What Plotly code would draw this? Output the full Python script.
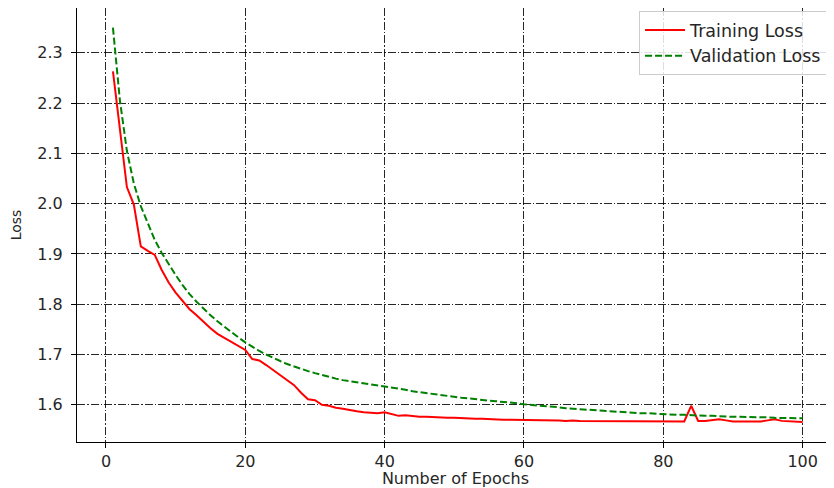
import plotly.graph_objects as go

epochs = list(range(1, 101))

training_loss = [
    2.263, 2.150, 2.033, 1.998, 1.915, 1.906, 1.898, 1.868, 1.843, 1.823,
    1.806, 1.790, 1.778, 1.764, 1.752, 1.741, 1.733, 1.724, 1.717, 1.709,
    1.691, 1.688, 1.679, 1.669, 1.659, 1.649, 1.639, 1.624, 1.611, 1.609,
    1.600, 1.598, 1.594, 1.592, 1.589, 1.587, 1.585, 1.584, 1.583, 1.585,
    1.581, 1.578, 1.579, 1.577, 1.576, 1.576, 1.575, 1.575, 1.574, 1.574,
    1.573, 1.573, 1.572, 1.572, 1.571, 1.571, 1.570, 1.570, 1.570, 1.570,
    1.570, 1.569, 1.569, 1.569, 1.569, 1.568, 1.569, 1.568, 1.568, 1.568,
    1.568, 1.567, 1.568, 1.567, 1.567, 1.567, 1.567, 1.567, 1.567, 1.567,
    1.567, 1.567, 1.567, 1.598, 1.568, 1.568, 1.569, 1.571, 1.569, 1.567,
    1.567, 1.567, 1.566, 1.567, 1.569, 1.571, 1.568, 1.567, 1.567, 1.566,
]

validation_loss = [
    2.350, 2.205, 2.105, 2.040, 1.995, 1.960, 1.928, 1.902, 1.879, 1.858,
    1.838, 1.820, 1.805, 1.791, 1.778, 1.766, 1.755, 1.744, 1.734, 1.724,
    1.715, 1.707, 1.700, 1.693, 1.687, 1.681, 1.676, 1.671, 1.667, 1.663,
    1.659, 1.655, 1.652, 1.649, 1.647, 1.645, 1.643, 1.641, 1.639, 1.637,
    1.634, 1.632, 1.630, 1.627, 1.625, 1.623, 1.621, 1.619, 1.617, 1.616,
    1.614, 1.613, 1.611, 1.610, 1.608, 1.607, 1.606, 1.604, 1.603, 1.601,
    1.600, 1.599, 1.597, 1.596, 1.595, 1.593, 1.592, 1.591, 1.590, 1.589,
    1.588, 1.587, 1.586, 1.586, 1.585, 1.584, 1.583, 1.583, 1.582, 1.581,
    1.581, 1.580, 1.580, 1.579, 1.579, 1.578, 1.578, 1.577, 1.577, 1.576,
    1.576, 1.576, 1.575, 1.575, 1.575, 1.574, 1.574, 1.574, 1.574, 1.573,
]

x_ticks = [0, 20, 40, 60, 80, 100]
y_ticks = [1.6, 1.7, 1.8, 1.9, 2.0, 2.1, 2.2, 2.3]

FONT = "DejaVu Sans"
TXT = "#262626"

fig = go.Figure()
fig.add_trace(go.Scatter(
    x=epochs, y=training_loss, mode="lines", name="Training Loss",
    line=dict(color="#ff0000", width=2),
))
fig.add_trace(go.Scatter(
    x=epochs, y=validation_loss, mode="lines", name="Validation Loss",
    line=dict(color="#008000", width=2, dash="7px,3px"),
))

grid_common = dict(
    showgrid=True, gridcolor="rgba(0,0,0,0.85)", gridwidth=1,
    griddash="8px,2px,1.5px,2px",
    showline=True, linecolor="black", linewidth=1, mirror=True,
    ticks="outside", ticklen=5, tickcolor="black", tickwidth=1,
    zeroline=False,
    tickfont=dict(family=FONT, size=16, color=TXT),
)

fig.update_xaxes(
    range=[-4.16, 104.5], tickvals=x_ticks,
    title=dict(text="Number of Epochs", font=dict(family=FONT, size=16, color=TXT), standoff=4),
    **grid_common,
)
fig.update_yaxes(
    range=[1.526, 2.389], tickvals=y_ticks, tickformat=".1f",
    ticklabelstandoff=5,
    title=dict(text="Loss", font=dict(family=FONT, size=14, color=TXT), standoff=14),
    **grid_common,
)

# The page places the figure 8px from the window's top-left corner.
fig.update_layout(
    width=826, height=480,
    margin=dict(l=69, r=0, t=0, b=46, autoexpand=False),
    paper_bgcolor="white", plot_bgcolor="white",
    showlegend=True,
    legend=dict(
        x=0.9908, y=0.993, xanchor="right", yanchor="top",
        bgcolor="rgba(255,255,255,0.85)", bordercolor="#cccccc", borderwidth=1,
        font=dict(family=FONT, size=17.5, color=TXT),
        tracegroupgap=0, itemwidth=40,
    ),
)

fig.write_html("out.html")
